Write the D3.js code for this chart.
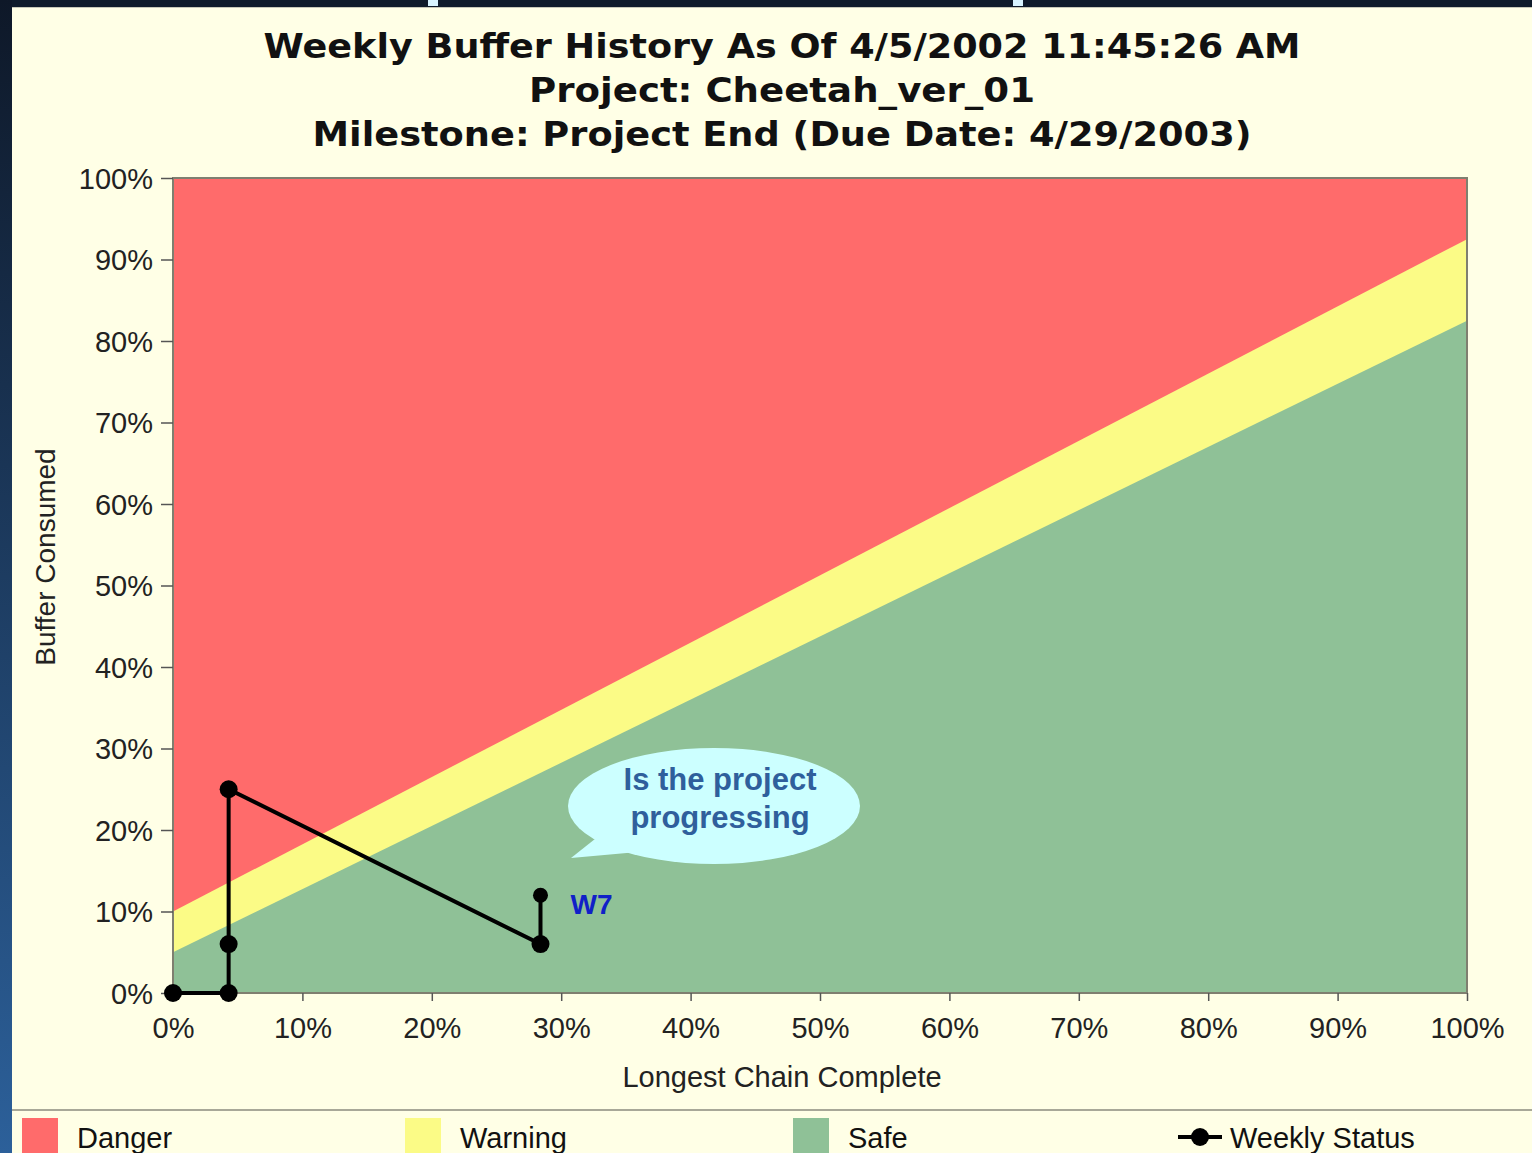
<!DOCTYPE html>
<html>
<head>
    <title>Weekly Buffer History</title>
    <script src="https://d3js.org/d3.v7.min.js"></script>
    <style>
        body { margin: 0; background: #0f1b2b; overflow: hidden; }
        svg { display: block; }
    </style>
</head>
<body>
    <svg width="1532" height="1153"></svg>
    <script>
        // chart data
        var titleLines = [
            "Weekly Buffer History As Of 4/5/2002 11:45:26 AM",
            "Project: Cheetah_ver_01",
            "Milestone: Project End (Due Date: 4/29/2003)"
        ];
        var xTicks = [0, 10, 20, 30, 40, 50, 60, 70, 80, 90, 100];
        var yTicks = [0, 10, 20, 30, 40, 50, 60, 70, 80, 90, 100];
        var zoneX = [0, 100];
        var warningTop = [10, 92.5];   // danger above this
        var safeTop = [5, 82.5];       // warning above this
        var statusX = [0, 4.3, 4.3, 4.3, 28.4, 28.4];
        var statusY = [0, 0, 6, 25, 6, 12];
        var lastLabel = "W7";
        var legendNames = ["Danger", "Warning", "Safe", "Weekly Status"];
        var zoneColors = ["#ff6b6b", "#fbfb86", "#8fc197"];

        var svg = d3.select("svg");

        // page background pieces (screenshot frame)
        var grad = svg.append("defs").append("linearGradient")
            .attr("id", "side").attr("x1", 0).attr("y1", 0).attr("x2", 0).attr("y2", 1);
        grad.append("stop").attr("offset", "0%").attr("stop-color", "#0e1828");
        grad.append("stop").attr("offset", "100%").attr("stop-color", "#2c609a");
        svg.append("rect").attr("x", 0).attr("y", 0).attr("width", 12).attr("height", 1153).attr("fill", "url(#side)");
        svg.append("rect").attr("x", 12).attr("y", 0).attr("width", 1520).attr("height", 7).attr("fill", "#0f1b2b");
        svg.append("rect").attr("x", 428).attr("y", 0).attr("width", 10).attr("height", 6).attr("fill", "#d8f4ff");
        svg.append("rect").attr("x", 1013).attr("y", 0).attr("width", 10).attr("height", 6).attr("fill", "#d8f4ff");
        svg.append("rect").attr("x", 12).attr("y", 7).attr("width", 1520).attr("height", 1146).attr("fill", "#ffffe6");
        svg.append("line").attr("x1", 12).attr("x2", 1532).attr("y1", 7.5).attr("y2", 7.5)
            .attr("stroke", "#c8c8b8").attr("stroke-width", 1);

        // title
        var titleWidths = [1037, 506, 939];
        svg.selectAll(".title")
            .data(titleLines)
            .enter().append("text")
            .attr("class", "title")
            .attr("x", 782)
            .attr("y", function(d, i) { return 58 + i * 44; })
            .attr("text-anchor", "middle")
            .attr("textLength", function(d, i) { return titleWidths[i]; })
            .attr("lengthAdjust", "spacingAndGlyphs")
            .style("font-family", "'DejaVu Sans', Verdana, sans-serif")
            .style("font-weight", "bold")
            .style("font-size", "34px")
            .style("fill", "#111")
            .text(function(d) { return d; });

        var x = d3.scaleLinear().domain([0, 100]).range([173, 1467]);
        var y = d3.scaleLinear().domain([0, 100]).range([993, 178]);

        // zones
        svg.append("rect")
            .attr("x", x(0)).attr("y", y(100))
            .attr("width", x(100) - x(0)).attr("height", y(0) - y(100))
            .attr("fill", zoneColors[0]);

        var area = d3.area()
            .x(function(d) { return x(d[0]); })
            .y0(y(0))
            .y1(function(d) { return y(d[1]); });

        svg.append("path")
            .datum(zoneX.map(function(v, i) { return [v, warningTop[i]]; }))
            .attr("d", area)
            .attr("fill", zoneColors[1]);
        svg.append("path")
            .datum(zoneX.map(function(v, i) { return [v, safeTop[i]]; }))
            .attr("d", area)
            .attr("fill", zoneColors[2]);

        svg.append("rect")
            .attr("x", x(0)).attr("y", y(100))
            .attr("width", x(100) - x(0)).attr("height", y(0) - y(100))
            .attr("fill", "none").attr("stroke", "#7f7f70").attr("stroke-width", 2);

        // axes
        var tickFont = "'Liberation Sans', Arial, sans-serif";
        var yAxis = svg.append("g")
            .attr("transform", "translate(" + x(0) + ",0)")
            .call(d3.axisLeft(y).tickValues(yTicks).tickSize(12).tickPadding(8)
                .tickFormat(function(d) { return d + "%"; }));
        var xAxis = svg.append("g")
            .attr("transform", "translate(0," + y(0) + ")")
            .call(d3.axisBottom(x).tickValues(xTicks).tickSize(8).tickPadding(16)
                .tickFormat(function(d) { return d + "%"; }));
        [yAxis, xAxis].forEach(function(g) {
            g.select(".domain").remove();
            g.selectAll(".tick line").attr("stroke", "#555").attr("stroke-width", 1.5);
            g.selectAll(".tick text")
                .style("font-family", tickFont)
                .style("font-size", "29px")
                .style("fill", "#222");
        });
        yAxis.selectAll(".tick text").attr("dy", "0.36em");

        svg.append("text")
            .attr("transform", "translate(55,557) rotate(-90)")
            .attr("text-anchor", "middle")
            .style("font-family", tickFont)
            .style("font-size", "28px")
            .style("fill", "#222")
            .text("Buffer Consumed");
        svg.append("text")
            .attr("x", 782).attr("y", 1087)
            .attr("text-anchor", "middle")
            .style("font-family", tickFont)
            .style("font-size", "29px")
            .style("fill", "#222")
            .text("Longest Chain Complete");

        // weekly status line
        var pts = statusX.map(function(v, i) { return [v, statusY[i]]; });
        svg.append("path")
            .datum(pts)
            .attr("d", d3.line().x(function(d) { return x(d[0]); }).y(function(d) { return y(d[1]); }))
            .attr("fill", "none")
            .attr("stroke", "#000")
            .attr("stroke-width", 4);
        svg.selectAll(".dot")
            .data(pts)
            .enter().append("circle")
            .attr("class", "dot")
            .attr("cx", function(d) { return x(d[0]); })
            .attr("cy", function(d) { return y(d[1]); })
            .attr("r", function(d, i) { return i === pts.length - 1 ? 7.5 : 9; })
            .attr("fill", "#000");
        var last = pts[pts.length - 1];
        svg.append("text")
            .attr("x", x(last[0]) + 30).attr("y", y(last[1]) + 19)
            .style("font-family", tickFont)
            .style("font-weight", "bold")
            .style("font-size", "28px")
            .style("fill", "#1020c8")
            .text(lastLabel);

        // callout bubble
        var cx = 714, cy = 806;
        svg.append("path")
            .attr("d", "M600,835 L571,858 L660,850 Z")
            .attr("fill", "#ccffff");
        svg.append("ellipse")
            .attr("cx", cx).attr("cy", cy).attr("rx", 146).attr("ry", 58)
            .attr("fill", "#ccffff");
        svg.selectAll(".callout")
            .data(["Is the project", "progressing"])
            .enter().append("text")
            .attr("class", "callout")
            .attr("x", 720)
            .attr("y", function(d, i) { return 790 + i * 38; })
            .attr("text-anchor", "middle")
            .style("font-family", tickFont)
            .style("font-weight", "bold")
            .style("font-size", "31px")
            .style("fill", "#2f5f9c")
            .text(function(d) { return d; });

        // legend
        svg.append("line")
            .attr("x1", 12).attr("x2", 1532).attr("y1", 1110).attr("y2", 1110)
            .attr("stroke", "#a8a898").attr("stroke-width", 2);
        var legendX = [22, 405, 793, 1178];
        var legend = svg.selectAll(".legend")
            .data(legendNames)
            .enter().append("g")
            .attr("class", "legend")
            .attr("transform", function(d, i) { return "translate(" + legendX[i] + ",0)"; });
        legend.each(function(d, i) {
            var g = d3.select(this);
            if (i < 3) {
                g.append("rect").attr("x", 0).attr("y", 1118).attr("width", 36).attr("height", 36)
                    .attr("fill", zoneColors[i]);
                g.append("text").attr("x", 55).attr("y", 1148).text(d);
            } else {
                g.append("line").attr("x1", 0).attr("x2", 44).attr("y1", 1137).attr("y2", 1137)
                    .attr("stroke", "#000").attr("stroke-width", 4);
                g.append("circle").attr("cx", 22).attr("cy", 1137).attr("r", 9).attr("fill", "#000");
                g.append("text").attr("x", 52).attr("y", 1148).text(d);
            }
        });
        legend.selectAll("text")
            .style("font-family", tickFont)
            .style("font-size", "29px")
            .style("fill", "#111");
    </script>
</body>
</html>
